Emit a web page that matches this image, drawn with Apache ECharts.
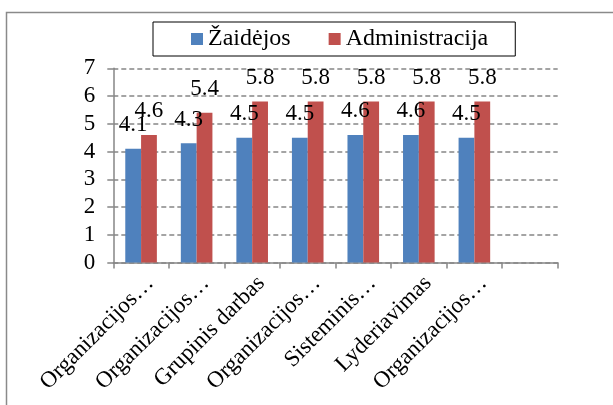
<!DOCTYPE html>
<html>
<head>
<meta charset="utf-8">
<script src="https://cdn.jsdelivr.net/npm/echarts@6/dist/echarts.min.js"></script>
<style>
html,body{margin:0;padding:0;background:#fff;}
#chart{width:613px;height:405px;}
</style>
</head>
<body>
<div id="chart"></div>
<script>
const categories = ['Organizacijos…', 'Organizacijos…', 'Grupinis darbas', 'Organizacijos…', 'Sisteminis…', 'Lyderiavimas', 'Organizacijos…', ''];
const zaidejos = [4.1, 4.3, 4.5, 4.5, 4.6, 4.6, 4.5];
const administracija = [4.6, 5.4, 5.8, 5.8, 5.8, 5.8, 5.8];
const seriesNames = ['Žaidėjos', 'Administracija'];
const yTicks = { min: 0, max: 7, interval: 1 };

const FONT = 'Liberation Serif';
const chart = echarts.init(document.getElementById('chart'), null, { renderer: 'canvas' });
const labelStyle = {
  show: true, position: 'top', distance: 12,
  fontFamily: FONT, fontSize: 23, color: '#000'
};
chart.setOption({
  backgroundColor: '#fff',
  animation: false,
  textStyle: { fontFamily: FONT },
  graphic: [{
    type: 'rect', z: -10,
    shape: { x: 6.5, y: 12.5, width: 800, height: 600 },
    style: { fill: '#fff', stroke: '#8a8a8a', lineWidth: 1.5 }
  }],
  legend: {
    left: 153, top: 22,
    padding: [5, 27, 5, 38],
    itemGap: 38, itemWidth: 12, itemHeight: 12,
    borderColor: '#000', borderWidth: 1,
    icon: 'rect',
    textStyle: { fontFamily: FONT, fontSize: 24, color: '#000' },
    data: seriesNames
  },
  grid: { left: 113.3, right: 55.3, top: 68.3, bottom: 142.5, containLabel: false },
  xAxis: {
    type: 'category',
    data: categories,
    axisLine: { lineStyle: { color: '#868686', width: 1.5 } },
    axisTick: { show: true, length: 6, interval: 0, lineStyle: { color: '#868686', width: 1.5 } },
    axisLabel: {
      interval: 0, rotate: 45, margin: 8,
      verticalAlign: 'top', lineHeight: 26,
      fontFamily: FONT, fontSize: 23, color: '#000'
    }
  },
  yAxis: {
    type: 'value', min: yTicks.min, max: yTicks.max, interval: yTicks.interval,
    axisLine: { show: true, lineStyle: { color: '#868686', width: 1.5 } },
    axisTick: { show: true, length: 6, lineStyle: { color: '#868686', width: 1.5 } },
    axisLabel: { margin: 18, fontFamily: FONT, fontSize: 23, color: '#000' },
    splitLine: { show: true, lineStyle: { color: '#868686', width: 1.5, type: [5, 3] } }
  },
  series: [
    { name: seriesNames[0], type: 'bar', data: zaidejos, barWidth: 15.8, barGap: '0%',
      itemStyle: { color: '#4F81BD' }, label: labelStyle },
    { name: seriesNames[1], type: 'bar', data: administracija, barWidth: 15.8, barGap: '0%',
      itemStyle: { color: '#C0504D' }, label: labelStyle }
  ]
});
</script>
</body>
</html>
